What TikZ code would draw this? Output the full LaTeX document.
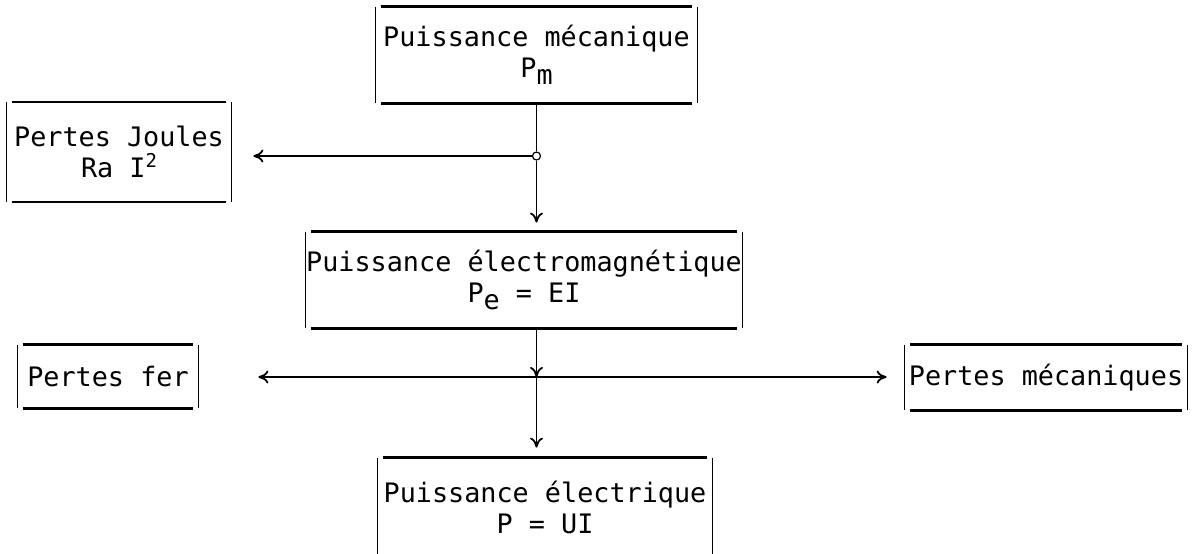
\documentclass[tikz,border=0pt]{standalone}
\usepackage{fontspec}
\setmonofont{DejaVu Sans Mono}
\usetikzlibrary{arrows,arrows.meta,positioning,calc}

\newcommand{\indice}[1]{\raisebox{-0.5ex}{#1}}
\newcommand{\expo}[1]{\raisebox{0.7ex}{\fontsize{9.5}{10}\selectfont #1}}

\begin{document}
\begin{tikzpicture}[x=0.5pt,y=-0.5pt,
  >={To[length=5pt,width=6.5pt]},
  boite/.style={inner sep=0pt, align=center,
                font=\ttfamily\fontsize{13.4}{15.5}\selectfont},
  cadre/.style={line width=1.3pt},
  bord/.style={line width=0.7pt},
  fleche/.style={->, line width=0.9pt}]
  \clip (0,0) rectangle (1197,553);

  \node[boite, minimum width=160.5pt, minimum height=48pt] (meca) at (536.5,55) {Puissance mécanique\\P\indice{m}};
  \node[boite, minimum width=112pt, minimum height=49.5pt] (joule) at (119,152) {Pertes Joules\\Ra I\expo{2}};
  \node[boite, minimum width=216pt, minimum height=48pt] (elmag) at (524,280) {Puissance électromagnétique\\P\indice{e} = EI};
  \node[boite, minimum width=90pt, minimum height=31.5pt] (fer) at (108,376.5) {Pertes fer};
  \node[boite, minimum width=141pt, minimum height=32.5pt] (pmeca) at (1046,377.5) {Pertes mécaniques};
  \node[boite, minimum width=167pt, minimum height=49pt] (elec) at (545,507) {Puissance électrique\\P = UI};

  \node[circle, draw, fill=white, inner sep=0pt, minimum size=4pt, line width=0.6pt] (noeud) at (536.5,156) {};
  \coordinate (jonc) at (536.5,377);

  % cadres
  \foreach \n in {meca,joule,elmag,fer,pmeca,elec} {
    \draw[cadre] ([xshift=2.5pt]\n.north west) -- ([xshift=-2.5pt]\n.north east)
                 ([xshift=2.5pt]\n.south west) -- ([xshift=-2.5pt]\n.south east);
    \draw[bord] (\n.north west) -- (\n.south west) (\n.north east) -- (\n.south east);
  }

  \draw[fleche,-] (meca) -- (noeud);
  \draw[fleche, shorten >=11pt] (noeud) -- (noeud -| joule.east);
  \draw[fleche, shorten >=4.5pt] (noeud) -- (noeud |- elmag.north);
  \draw[fleche] (elmag.south -| jonc) -- (jonc);
  \draw[fleche, shorten >=30pt] (jonc) -- (jonc -| fer.east);
  \draw[fleche, shorten >=9pt] (jonc) -- (jonc -| pmeca.west);
  \draw[fleche, shorten >=5pt] (jonc) -- (jonc |- elec.north);
\end{tikzpicture}
\end{document}
